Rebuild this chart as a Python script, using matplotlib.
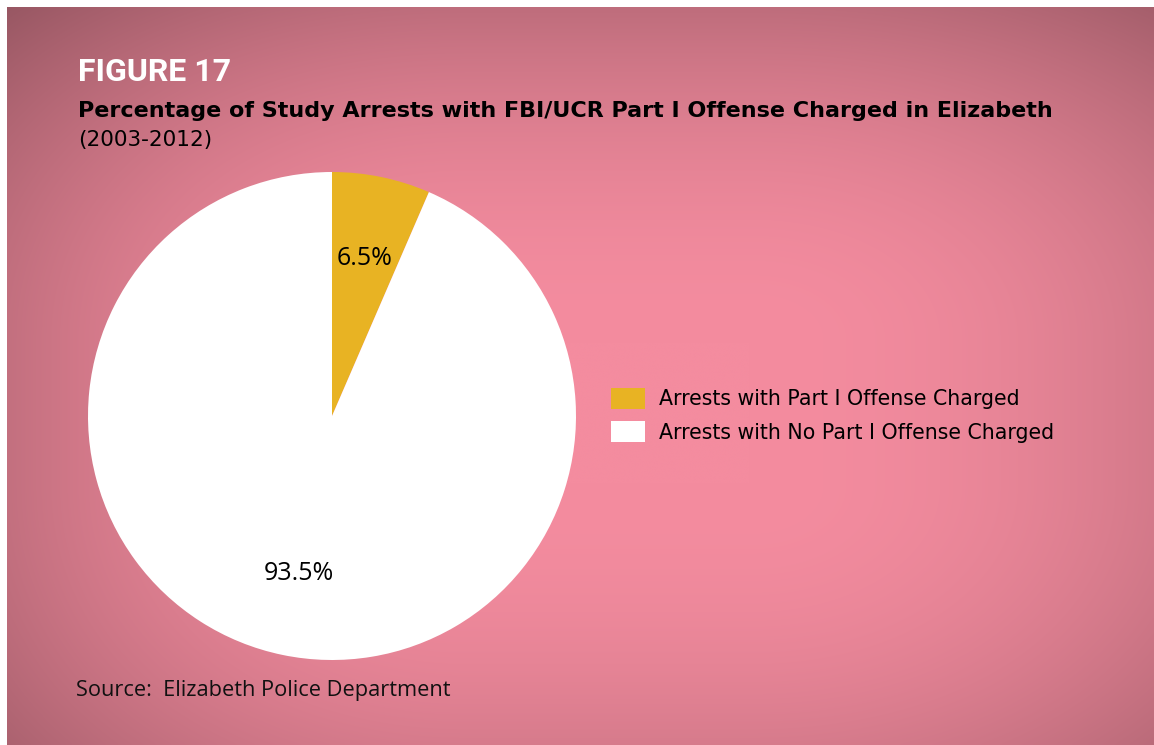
import matplotlib
matplotlib.use('Agg')
import matplotlib.pyplot as plt
import matplotlib.patches as mpatches
import numpy as np

# data
labels = ['Arrests with Part I Offense Charged', 'Arrests with No Part I Offense Charged']
shares = [6.5, 93.5]
colors = ['#E8B323', '#FFFFFF']

W, H = 1154, 745
fig = plt.figure(figsize=(W / 100, H / 100), dpi=100)
fig.patch.set_facecolor('white')
renderer = fig.canvas.get_renderer()


def fit_width(txt, width_px):
    # scale font size so the text spans the given width in pixels
    w = txt.get_window_extent(renderer).width
    txt.set_fontsize(txt.get_fontsize() * width_px / w)


def edge_dark(t, k, w):
    # darkening near one edge; t is the distance from that edge (0..1)
    return 1 - k * np.clip(1 - t / w, 0, None) ** 2


# pink panel with darker edges
bg = fig.add_axes([7 / W, 0, 1 - 7 / W, 1 - 7 / H])
bg.set_axis_off()
ny, nx = 300, 460
yy, xx = np.mgrid[0:ny, 0:nx]
x = xx / (nx - 1)
y = yy / (ny - 1)   # 0 at top
shade = (edge_dark(x, 0.20, 0.40) * edge_dark(1 - x, 0.13, 0.35)
         * edge_dark(y, 0.22, 0.45) * edge_dark(1 - y, 0.12, 0.35))
base = np.array([244, 140, 159]) / 255
img = base[None, None, :] * shade[:, :, None]
bg.imshow(np.clip(img, 0, 1), aspect='auto', extent=[0, 1, 0, 1], interpolation='bicubic')
bg.set_xlim(0, 1); bg.set_ylim(0, 1)

# titles
fig.text(78 / W, 1 - 81 / H, 'FIGURE 17', color='white', fontsize=23,
         fontweight='bold', family='Roboto', va='baseline')
sub = fig.text(78 / W, 1 - 117 / H,
               'Percentage of Study Arrests with FBI/UCR Part I Offense Charged in Elizabeth',
               color='black', fontsize=17, fontweight='bold', family='DejaVu Sans', va='baseline')
fit_width(sub, 979)
yrs = fig.text(78 / W, 1 - 146 / H, '(2003-2012)', color='black', fontsize=16,
               family='DejaVu Sans', va='baseline')
fit_width(yrs, 135)

# pie
r = 244
cx, cy = 332, 416
ax = fig.add_axes([(cx - r) / W, 1 - (cy + r) / H, 2 * r / W, 2 * r / H])
wedges, texts, autotexts = ax.pie(shares, colors=colors, startangle=90, counterclock=False,
                                  radius=1, autopct='%.1f%%', pctdistance=0.66,
                                  wedgeprops=dict(linewidth=0))
for t in autotexts:
    t.set_fontsize(18)
    t.set_family('Open Sans')
    t.set_color('black')
ax.set_xlim(-1, 1); ax.set_ylim(-1, 1)
ax.set_aspect('equal')
ax.set_axis_off()

# legend
handles = [mpatches.Patch(facecolor=c, edgecolor='none') for c in colors]
fs = 14.8
fs_px = fs * 100 / 72
leg = fig.legend(handles, labels, loc='upper left', bbox_to_anchor=(611 / W, 1 - 388 / H),
                 frameon=False, borderpad=0, borderaxespad=0,
                 handlelength=34 / fs_px, handleheight=24 / fs_px,
                 handletextpad=14 / fs_px, labelspacing=12 / fs_px,
                 prop=dict(family='DejaVu Sans', size=fs))

fig.text(76 / W, 1 - 696 / H, 'Source:  Elizabeth Police Department', fontsize=15.7,
         family='Open Sans', color='#111111', va='baseline')

fig.savefig('out.png', dpi=100)
